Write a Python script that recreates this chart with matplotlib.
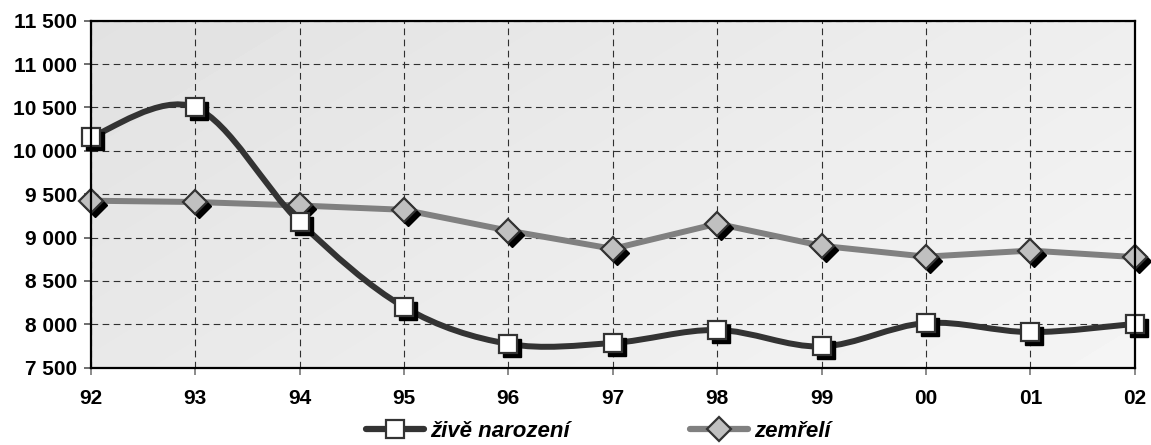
import numpy as np
import matplotlib.pyplot as plt
from matplotlib.path import Path
from matplotlib.patches import PathPatch
from matplotlib.lines import Line2D
import matplotlib.transforms as mtransforms

plt.rcParams['font.family'] = ['Liberation Sans', 'DejaVu Sans']

# ------------------------------------------------------------------
# data
# ------------------------------------------------------------------
years = ['92', '93', '94', '95', '96', '97', '98', '99', '00', '01', '02']
zive_narozeni = [10160, 10500, 9180, 8200, 7775, 7785, 7935, 7745, 8015, 7910, 8005]
zemreli = [9425, 9410, 9370, 9320, 9080, 8870, 9160, 8905, 8780, 8850, 8775]
yticks = [7500, 8000, 8500, 9000, 9500, 10000, 10500, 11000, 11500]

x = np.arange(len(years))

fig = plt.figure(figsize=(11.51, 4.45), dpi=100)
ax = fig.add_axes([0.0788, 0.1737, 0.9072, 0.7798])
ax.set_xlim(0, len(years) - 1)
ax.set_ylim(7500, 11500)

# background gradient
gx, gy = np.meshgrid(np.linspace(0, 1, 200), np.linspace(0, 1, 100))
grad = 0.885 + 0.075 * (0.65 * gx + 0.35 * gy)
ax.imshow(grad, cmap='gray', vmin=0, vmax=1, extent=[0, 10, 7500, 11500],
          origin='upper', aspect='auto', zorder=0, interpolation='bilinear')

# grid
for xi in x:
    ax.axvline(xi, color='#303030', lw=0.8, ls=(0, (6, 4)), zorder=1)
for yv in yticks:
    ax.axhline(yv, color='#303030', lw=0.8, ls=(0, (6, 4)), zorder=1)


def smooth_path(xs, ys):
    # Catmull-Rom style bezier like the Excel "smoothed line"
    pts = np.column_stack([xs, ys]).astype(float)
    verts = [pts[0]]
    codes = [Path.MOVETO]
    n = len(pts)
    for i in range(n - 1):
        p0 = pts[i - 1] if i > 0 else pts[i]
        p1 = pts[i]
        p2 = pts[i + 1]
        p3 = pts[i + 2] if i + 2 < n else pts[i + 1]
        c1 = p1 + (p2 - p0) / 6.0
        c2 = p2 - (p3 - p1) / 6.0
        verts += [c1, c2, p2]
        codes += [Path.CURVE4] * 3
    return Path(verts, codes)


shadow = mtransforms.offset_copy(ax.transData, fig=fig, x=4, y=-4, units='dots')

# zemreli (straight segments)
ax.plot(x, zemreli, color='#808080', lw=4.3, solid_capstyle='round', zorder=3)
ax.plot(x, zemreli, ls='none', marker='D', ms=12.5, color='black',
        transform=shadow, zorder=4, clip_on=False)
ax.plot(x, zemreli, ls='none', marker='D', ms=12.5, mfc='#c0c0c0', mec='#333333',
        mew=1.6, zorder=5, clip_on=False)

# zive narozeni (smoothed)
ax.add_patch(PathPatch(smooth_path(x, zive_narozeni), fill=False, ec='#333333',
                       lw=4.3, capstyle='round', zorder=6))
ax.plot(x, zive_narozeni, ls='none', marker='s', ms=13, color='black',
        transform=shadow, zorder=7, clip_on=False)
ax.plot(x, zive_narozeni, ls='none', marker='s', ms=13, mfc='white', mec='#333333',
        mew=1.6, zorder=8, clip_on=False)

# axes styling
ax.set_xticks(x)
ax.set_xticklabels(years, fontsize=15, fontweight='bold')
ax.set_yticks(yticks)
ax.set_yticklabels([f'{v:,}'.replace(',', ' ') for v in yticks],
                   fontsize=15, fontweight='bold')
ax.tick_params(axis='y', direction='out', length=5, width=1.2, color='#555555', pad=5)
ax.tick_params(axis='x', direction='out', length=5, width=1.2, color='#777777', pad=10)
for sp in ax.spines.values():
    sp.set_color('black')
    sp.set_linewidth(1.6)
    sp.set_zorder(9)

# legend
h1 = Line2D([], [], color='#333333', lw=4.5, marker='s', ms=13, mfc='white',
            mec='#333333', mew=1.6, solid_capstyle='round')
h2 = Line2D([], [], color='#808080', lw=4.5, marker='D', ms=12.5, mfc='#c0c0c0',
            mec='#333333', mew=1.6, solid_capstyle='round')
fig.legend([h1, h2], ['živě narození', 'zemřelí'], loc='center',
           bbox_to_anchor=(0.52, 0.03), ncol=2, frameon=False, handlelength=2.6,
           handletextpad=0.3, columnspacing=5.4, borderpad=0,
           prop={'weight': 'bold', 'style': 'italic', 'size': 16})

fig.savefig('out.png', dpi=100)
